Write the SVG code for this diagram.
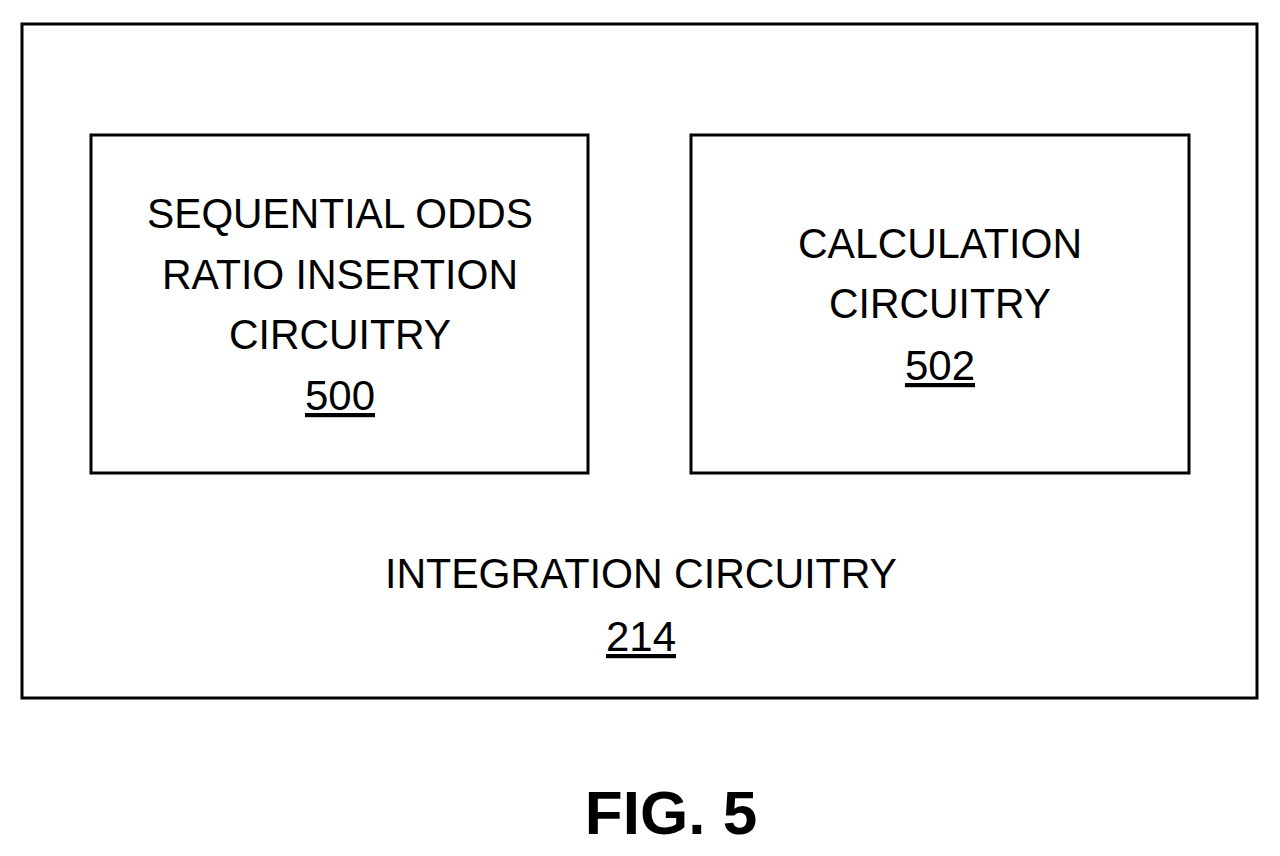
<svg xmlns="http://www.w3.org/2000/svg" width="1280" height="856" viewBox="0 0 1280 856">
<style>
.b{fill:#fff;stroke:#000;stroke-width:3}
.t{font-family:"Liberation Sans",Arial,sans-serif;font-size:42px;text-anchor:middle;fill:#000;font-stretch:condensed}
.u{text-decoration:underline}
</style>
<rect width="1280" height="856" fill="#fff"/>
<g id="integration">
<rect class="b" x="22" y="24" width="1235" height="674"/>
<text class="t" x="641" y="588" textLength="512" lengthAdjust="spacingAndGlyphs">INTEGRATION CIRCUITRY</text>
<text class="t u" x="641" y="651">214</text>
</g>
<g id="sor">
<rect class="b" x="91" y="135" width="497" height="338"/>
<text class="t" x="340" y="228" textLength="386" lengthAdjust="spacingAndGlyphs">SEQUENTIAL ODDS</text>
<text class="t" x="340" y="289" textLength="356" lengthAdjust="spacingAndGlyphs">RATIO INSERTION</text>
<text class="t" x="340" y="349" textLength="222" lengthAdjust="spacingAndGlyphs">CIRCUITRY</text>
<text class="t u" x="340" y="410">500</text>
</g>
<g id="calc">
<rect class="b" x="691" y="135" width="498" height="338"/>
<text class="t" x="940" y="258" textLength="284" lengthAdjust="spacingAndGlyphs">CALCULATION</text>
<text class="t" x="940" y="318" textLength="222" lengthAdjust="spacingAndGlyphs">CIRCUITRY</text>
<text class="t u" x="940" y="380">502</text>
</g>
<g id="connectors"/>
<text x="671" y="834" style="font-family:'Liberation Sans',Arial,sans-serif;font-size:62px;font-weight:bold;text-anchor:middle">FIG. 5</text>
</svg>
